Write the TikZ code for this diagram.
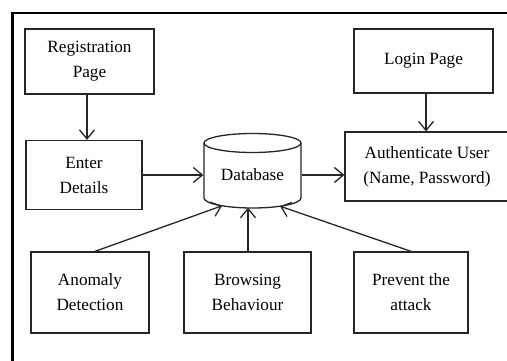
\documentclass[tikz,border=0pt]{standalone}
\usepackage{fontspec}
\setmainfont{Liberation Serif}
\usetikzlibrary{arrows.meta}
\begin{document}
\begin{tikzpicture}[x=1pt,y=1pt,
  box/.style={draw=black!85, line width=1.3pt, align=center, inner sep=0pt,
    font=\fontsize{17.2}{25}\selectfont},
  arr/.style={draw=black!85, line width=1.3pt, -{Straight Barb[length=9pt,width=15pt,line width=1.3pt]}},
  frame/.style={line width=2.8pt, black}]
\clip (0,0) rectangle (507,360);
\fill[white] (0,0) rectangle (507,360);
% frame (top and left only)
\draw[frame] (12.5,-2) -- (12.5,347) -- (510,347);
% nodes
\node[box, minimum width=129, minimum height=65] (reg) at (89.5,298.5) {Registration\\Page};
\node[box, minimum width=116, minimum height=69] (enter) at (84,185) {Enter\\Details};
\node[box, minimum width=139, minimum height=64] (login) at (423.5,299) {Login Page};
\node[box, minimum width=164, minimum height=69] (auth) at (427,193.5) {Authenticate User\\(Name, Password)};
\node[box, minimum width=118, minimum height=81] (anom) at (90,67.5) {Anomaly\\Detection};
\node[box, minimum width=127, minimum height=81] (brow) at (247.5,67.5) {Browsing\\Behaviour};
\node[box, minimum width=114, minimum height=81] (prev) at (411,67.5) {Prevent the\\attack};
% database cylinder
\node[box, draw=none, minimum width=97, minimum height=46] (db) at (252.5,185) {Database};
\draw[draw=black!85, line width=1.3pt] (252.5,217) ellipse [x radius=48.5pt, y radius=9.5pt];
\draw[draw=black!85, line width=1.3pt] (204,217) -- (204,162)
  arc[start angle=180, end angle=360, x radius=48.5pt, y radius=10pt] -- (301,217);
\coordinate (dbA) at (222,154.2);
\coordinate (dbB) at (248,152.3);
\coordinate (dbC) at (280,153.8);
% connectors
\draw[arr] (reg.south -| 87,0) -- (enter.north -| 87,0);
\draw[arr] (login.south -| 426,0) -- (auth.north -| 426,0);
\draw[arr] (enter.east |- db.west) -- (db.west);
\draw[arr] (db.east) -- (db.east -| auth.west);
\draw[arr] (anom.north -| 95,0) -- (dbA);
\draw[arr] (brow.north -| 248,0) -- (dbB);
\draw[arr] (prev.north) -- (dbC);
\end{tikzpicture}
\end{document}
